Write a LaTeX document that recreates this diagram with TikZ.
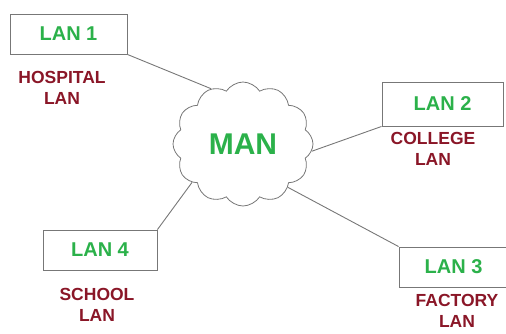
\documentclass[tikz,border=0pt]{standalone}
\usepackage{fontspec}
\setmainfont{Liberation Sans}
\usepackage{xcolor}
\definecolor{lanGreen}{HTML}{2BB14A}
\definecolor{tagRed}{HTML}{8A1627}
\definecolor{wire}{HTML}{777777}
\usepackage{tikz}
\usetikzlibrary{shapes.symbols}
\tikzset{%
    lanbox/.style={%
        draw=wire, line width=0.9pt, text=lanGreen, font=\fontsize{20}{22}\selectfont\bfseries
    },
    lantag/.style={%
        text=tagRed, align=center, font=\fontsize{17.5}{21}\selectfont\bfseries
    },
}

\begin{document}
\begin{tikzpicture}[
        x=1pt, y=-1pt,
        every node/.style={inner sep=0},
        link/.style={draw=wire, line width=0.9pt},
    ]
        \useasboundingbox (0,0) rectangle (506,333);

        \node[cloud, cloud puffs=12, cloud puff arc=115, draw=wire, line width=0.8pt,
              minimum width=140pt, minimum height=124pt,
              text=lanGreen, font=\fontsize{30}{32}\selectfont\bfseries] (man) at (243,144) {MAN};

        \node[lanbox, minimum width=117pt, minimum height=40pt] (lan1) at (68.5,34) {LAN 1};
        \node[lanbox, minimum width=121pt, minimum height=44pt] (lan2) at (442.5,104) {LAN 2};
        \node[lanbox, minimum width=109pt, minimum height=40pt] (lan3) at (453.5,267) {LAN 3};
        \node[lanbox, minimum width=114pt, minimum height=40pt] (lan4) at (100,250) {LAN 4};

        \node[lantag] (hospital) at (62,87.5) {HOSPITAL\\LAN};
        \node[lantag] (college) at (433,148.5) {COLLEGE\\LAN};
        \node[lantag] (factory) at (457,311) {FACTORY\\LAN};
        \node[lantag] (school) at (97,304.5) {SCHOOL\\LAN};

        \draw[link] (lan1.south east) -- (man.120);
        \draw[link] (lan2.south west) -- (man.-6);
        \draw[link] (lan3.north west) -- (man.-44);
        \draw[link] (lan4.north east) -- (man.217);

    \end{tikzpicture}
\end{document}
